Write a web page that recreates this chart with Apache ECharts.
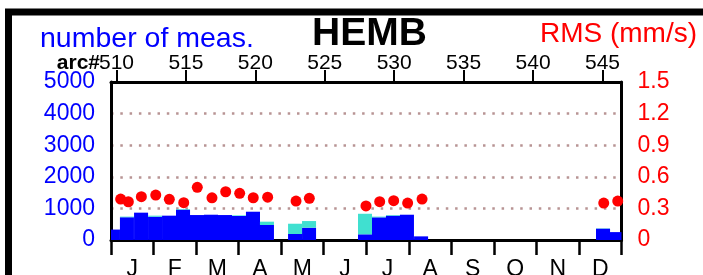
<!DOCTYPE html>
<html>
<head>
<meta charset="utf-8">
<script src="https://cdn.jsdelivr.net/npm/echarts@6/dist/echarts.min.js"></script>
<style>
  html, body { margin: 0; padding: 0; background: #fff; }
  #chart { width: 703px; height: 275px; }
</style>
</head>
<body>
<div id="chart"></div>
<script>
// months on the bottom axis, arc numbers on the top axis
var months = ['J', 'F', 'M', 'A', 'M', 'J', 'J', 'A', 'S', 'O', 'N', 'D'];
var arcTicks = [510, 515, 520, 525, 530, 535, 540, 545];

// ~10 day bins, centre given as day of year
var binDays = [1.4, 11.4, 21.5, 31.5, 41.5, 51.5, 61.5, 71.5, 81.5, 91.5, 101.5, 111.5,
    131.6, 141.6, 181.6, 191.6, 201.6, 211.6, 221.7, 351.8, 361.8];
var measBlue = [330, 720, 865, 737, 770, 960, 790, 800, 790, 760, 895, 475,
    190, 390, 180, 717, 770, 800, 115, 360, 250];
var measCyan = [0, 20, 0, 33, 0, 20, 0, 0, 0, 20, 0, 105,
    325, 210, 650, 23, 20, 0, 0, 10, 0];
var binSpan = 10.03;

// RMS points
var rmsDays = [6.9, 12.4, 21.7, 32.0, 41.7, 52.0, 61.7, 72.2, 82.0, 92.0, 101.7, 112.0,
    132.3, 141.8, 182.3, 192.1, 202.1, 212.1, 222.4, 352.3, 362.3];
var rmsValues = [0.389, 0.363, 0.411, 0.427, 0.386, 0.354, 0.50, 0.40, 0.458, 0.443, 0.401, 0.406,
    0.37, 0.396, 0.323, 0.364, 0.373, 0.351, 0.389, 0.351, 0.37];

var font = 'Liberation Sans, Arial, Helvetica, sans-serif';

var blueData = binDays.map(function (d, i) { return [d, 0, measBlue[i]]; });
var cyanData = binDays.map(function (d, i) { return [d, measBlue[i], measBlue[i] + measCyan[i]]; });
var rmsData = rmsDays.map(function (d, i) { return [d, rmsValues[i]]; });

var binRender = function (color) {
    return function (params, api) {
        var x = api.value(0);
        var p0 = api.coord([x - binSpan / 2, api.value(2)]);
        var p1 = api.coord([x + binSpan / 2, api.value(1)]);
        var rect = echarts.graphic.clipRectByRect({
            x: p0[0], y: p0[1], width: p1[0] - p0[0], height: p1[1] - p0[1]
        }, {
            x: params.coordSys.x, y: params.coordSys.y,
            width: params.coordSys.width, height: params.coordSys.height
        });
        if (!rect) return;
        return { type: 'rect', shape: rect, style: { fill: color } };
    };
};

var chart = echarts.init(document.getElementById('chart'));
var option = {
    animation: false,
    backgroundColor: '#fff',
    title: [
        {
            text: 'HEMB', left: 307, top: 10,
            textStyle: { fontFamily: font, fontSize: 39, fontWeight: 'bold', color: '#000' }
        },
        {
            text: 'number of meas.', left: 35, top: 20,
            textStyle: { fontFamily: font, fontSize: 28.5, fontWeight: 'normal', color: '#0000ff' }
        },
        {
            text: 'RMS (mm/s)', right: 1, top: 15,
            textStyle: { fontFamily: font, fontSize: 28, fontWeight: 'normal', color: '#ff0000' }
        }
    ],
    graphic: [
        {
            type: 'rect', z: -1, silent: true,
            shape: { x: 8.5, y: 12, width: 800, height: 400 },
            style: { fill: 'none', stroke: '#000', lineWidth: 7 }
        },
        {
            type: 'text', x: 100, y: 63,
            style: {
                text: 'arc#', font: 'bold 21px ' + font, fill: '#000',
                textAlign: 'right', textVerticalAlign: 'middle'
            }
        }
    ],
    grid: {
        left: 111, right: 81.5, top: 82, bottom: 35,
        containLabel: false, outerBoundsMode: 'none'
    },
    xAxis: [
        {
            type: 'category',
            position: 'bottom',
            data: months,
            boundaryGap: true,
            axisLine: { onZero: false, lineStyle: { color: '#000', width: 3 } },
            axisTick: { show: true, length: 15, lineStyle: { color: '#000', width: 2.5 } },
            axisLabel: { fontFamily: font, fontSize: 23, color: '#000', margin: 18 },
            splitLine: { show: false }
        },
        {
            type: 'value',
            position: 'top',
            min: 509.604,
            max: 546.37,
            axisLine: { show: true, onZero: false, lineStyle: { color: '#000', width: 3 } },
            axisTick: {
                show: true, length: 12, customValues: arcTicks,
                lineStyle: { color: '#000', width: 2 }
            },
            axisLabel: {
                customValues: arcTicks, fontFamily: font, fontSize: 21,
                color: '#000', margin: 8
            },
            splitLine: { show: false }
        },
        {
            type: 'value',
            min: 0,
            max: 365,
            show: false
        }
    ],
    yAxis: [
        {
            type: 'value',
            position: 'left',
            min: 0, max: 5000, interval: 1000,
            axisLine: { show: true, onZero: false, lineStyle: { color: '#000', width: 3 } },
            axisTick: { show: false },
            axisLabel: {
                fontFamily: font, fontSize: 23, color: '#0000ff', margin: 16,
                formatter: function (v) { return String(v); }
            },
            splitLine: { show: false }
        },
        {
            type: 'value',
            position: 'right',
            min: 0, max: 1.5, interval: 0.3,
            axisLine: { show: true, onZero: false, lineStyle: { color: '#000', width: 3 } },
            axisTick: { show: false },
            axisLabel: {
                fontFamily: font, fontSize: 23, color: '#ff0000', margin: 16,
                formatter: function (v) { return v === 0 ? '0' : v.toFixed(1); }
            },
            splitLine: {
                show: true,
                lineStyle: { color: '#b89494', width: 2.5, type: [2.5, 6.8] }
            }
        }
    ],
    series: [
        {
            name: 'meas',
            type: 'custom',
            xAxisIndex: 2,
            yAxisIndex: 0,
            encode: { x: 0, y: [1, 2] },
            renderItem: binRender('#0000ff'),
            data: blueData
        },
        {
            name: 'meas2',
            type: 'custom',
            xAxisIndex: 2,
            yAxisIndex: 0,
            encode: { x: 0, y: [1, 2] },
            renderItem: binRender('#40e0d0'),
            data: cyanData
        },
        {
            name: 'rms',
            type: 'scatter',
            xAxisIndex: 2,
            yAxisIndex: 1,
            symbolSize: 11,
            itemStyle: { color: '#ff0000', opacity: 1 },
            data: rmsData
        }
    ]
};
chart.setOption(option);
</script>
</body>
</html>
